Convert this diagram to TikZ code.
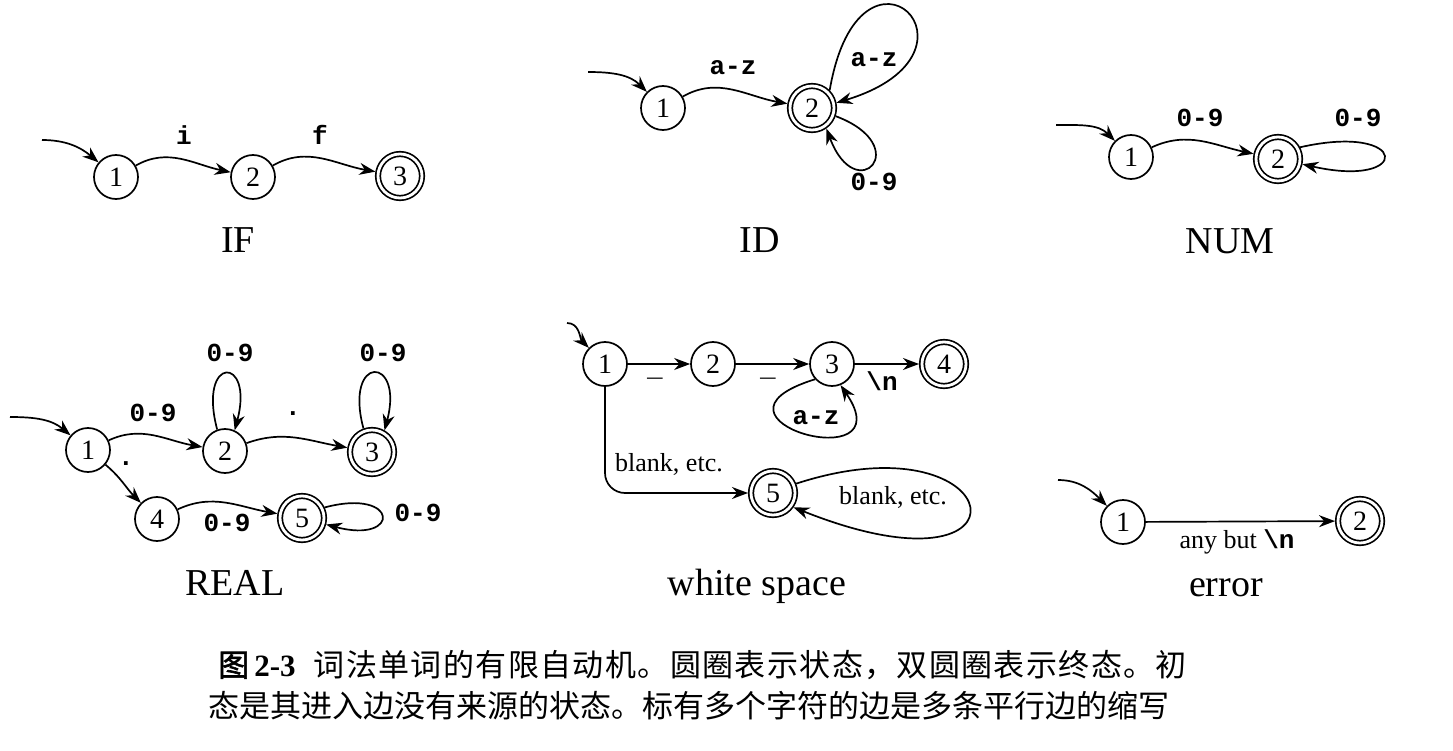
\documentclass[tikz,border=0pt]{standalone}
\usepackage{fontspec}
\setmainfont{Liberation Serif}
\newfontfamily\monofont{Liberation Mono}
\newfontfamily\cjk{Noto Sans CJK SC}[AutoFakeBold=2]
\usetikzlibrary{arrows.meta,positioning}

\begin{document}
\begin{tikzpicture}[
  x=1pt, y=1pt,
  fstate/.style={
    circle, draw, line width=1.7pt,
    minimum size=44pt, inner sep=0pt,
    font=\fontsize{28}{28}\selectfont
  },
  accstate/.style={
    fstate, double, double distance=2.8pt,
    minimum size=44pt, outer sep=3pt
  },
  trans/.style={-{Stealth[length=16pt,width=12pt]}, line width=1.7pt},
  elab/.style={font=\fontsize{26}{26}\selectfont\monofont\bfseries, inner sep=1pt},
  tlab/.style={font=\fontsize{26}{26}\selectfont, inner sep=1pt},
  dfatitle/.style={font=\fontsize{38}{38}\selectfont}
]
\useasboundingbox (0,0) rectangle (1453,-751);

% IF
\coordinate (if0) at (42,-140);
\node[fstate]   (if1) at (116,-177) {1};
\node[fstate]   (if2) at (253,-177) {2};
\node[accstate] (if3) at (400,-176) {3};
\draw[trans] (if0) to[out=0,in=140] (if1);
\draw[trans] (if1) to[out=30,in=168] (if2);
\draw[trans] (if2) to[out=30,in=170] (if3);
\node[elab] (ifi) at (184,-135) {i};
\node[elab] (iff) at (320,-135) {f};
\node[dfatitle] (iftitle) at (238,-240) {IF};

% ID
\coordinate (id0) at (588,-72);
\node[fstate]   (id1) at (663,-108) {1};
\node[accstate] (id2) at (812,-108) {2};
\draw[trans] (id0) to[out=0,in=135] (id1);
\draw[trans] (id1) to[out=30,in=170] (id2);
\draw[trans] (id2.45) .. controls +(30,175) and +(165,50) .. (id2.12);
\draw[trans] (id2.-19) .. controls +(80,-30) and +(30,-80) .. (id2.-55);
\node[elab] (idaz) at (733,-68) {a-z};
\node[elab] (idloopaz) at (874,-60) {a-z};
\node[elab] (idloop09) at (874,-182) {0-9};
\node[dfatitle] (idtitle) at (760,-240) {ID};

% NUM
\coordinate (num0) at (1056,-125);
\node[fstate]   (num1) at (1131,-157) {1};
\node[accstate] (num2) at (1278,-159) {2};
\draw[trans] (num0) to[out=0,in=135] (num1);
\draw[trans] (num1) to[out=25,in=168] (num2);
\draw[trans] (num2.28) .. controls +(110,25) and +(110,-25) .. (num2.-12);
\node[elab] (num09) at (1200,-118) {0-9};
\node[elab] (numloop09) at (1358,-118) {0-9};
\node[dfatitle] (numtitle) at (1230,-241) {NUM};

% REAL
\coordinate (re0) at (10,-417);
\node[fstate]   (re1) at (88,-450) {1};
\node[fstate]   (re2) at (225,-451) {2};
\node[accstate] (re3) at (372,-452) {3};
\node[fstate]   (re4) at (157,-519) {4};
\node[accstate] (re5) at (302,-518) {5};
\draw[trans] (re0) to[out=0,in=140] (re1);
\draw[trans] (re1) to[out=25,in=170] (re2);
\draw[trans] (re2) to[out=20,in=170] (re3);
\draw[trans] (re1) to[out=-40,in=135] (re4);
\draw[trans] (re4) to[out=25,in=170] (re5);
\draw[trans] (re2.110) .. controls +(-20,75) and +(20,75) .. (re2.65);
\draw[trans] (re3.110) .. controls +(-20,75) and +(20,75) .. (re3.60);
\draw[trans] (re5.25) .. controls +(75,20) and +(75,-20) .. (re5.-15);
\node[elab] (re09a) at (153,-413) {0-9};
\node[elab] (re09b) at (230,-353) {0-9};
\node[elab] (redota) at (293,-414) {.};
\node[elab] (re09c) at (383,-353) {0-9};
\node[elab] (redotb) at (126,-464) {.};
\node[elab] (re09d) at (227,-523) {0-9};
\node[elab] (re09e) at (418,-513) {0-9};
\node[dfatitle] (retitle) at (235,-583) {REAL};

% white space
\coordinate (ws0) at (567,-323);
\node[fstate]   (ws1) at (605,-364) {1};
\node[fstate]   (ws2) at (713,-364) {2};
\node[fstate]   (ws3) at (832,-364) {3};
\node[accstate] (ws4) at (944,-364) {4};
\node[accstate] (ws5) at (773,-493) {5};
\draw[trans] (ws0) to[out=0,in=135] (ws1);
\draw[trans] (ws1) -- (ws2);
\draw[trans] (ws2) -- (ws3);
\draw[trans] (ws3) -- (ws4);
\draw[trans, rounded corners=20pt] (ws1) |- (ws5);
\draw[trans] (ws3.222) .. controls +(-130,-40) and +(65,-95) .. (ws3.-68);
\draw[trans] (ws5.22) .. controls +(215,70) and +(250,-100) .. (ws5.-35);
\node[elab] (wsua) at (655,-378) {\_};
\node[elab] (wsub) at (768,-378) {\_};
\node[elab] (wsnl) at (882,-381) {\textbackslash n};
\node[elab] (wsaz) at (816,-418) {a-z};
\node[tlab, anchor=west] (wsblank) at (614,-464) {blank, etc.};
\node[tlab] (wsloopblank) at (893,-497) {blank, etc.};
\node[dfatitle] (wstitle) at (757,-586) {white space};

% error
\coordinate (er0) at (1058,-480);
\node[fstate]   (er1) at (1123,-522) {1};
\node[accstate] (er2) at (1360,-521) {2};
\draw[trans] (er0) to[out=0,in=135] (er1);
\draw[trans] (er1) -- (er2);
\node[tlab] (eranybut) at (1237,-542) {any but {\monofont\bfseries\textbackslash n}};
\node[dfatitle] (ertitle) at (1226,-588) {error};

% caption
\node[anchor=west, inner sep=0pt, font=\fontsize{31}{31}\selectfont] (capa) at (218,-665)
  {{\cjk\bfseries 图}\,\textbf{2-3}\hspace{18pt}{\cjk\addfontfeature{LetterSpace=4.5}词法单词的有限自动机。圆圈表示状态，双圆圈表示终态。初}};
\node[anchor=west, inner sep=0pt, font=\fontsize{31}{31}\selectfont] (capb) at (208,-706)
  {\cjk 态是其进入边没有来源的状态。标有多个字符的边是多条平行边的缩写};
\end{tikzpicture}
\end{document}
